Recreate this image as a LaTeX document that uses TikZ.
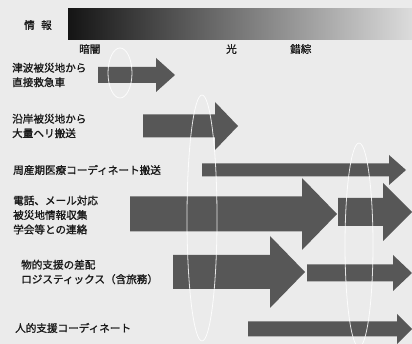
\documentclass[tikz,border=0pt]{standalone}
\usepackage{fontspec}
\newfontfamily\jpfont[FakeBold=1.2]{Noto Sans CJK JP}
\newcommand\myarrow[6]{% x0, head base, tip, centre y, body half, head half
  \fill[arrowfill] (#1,#4-#5) -- (#2,#4-#5) -- (#2,#4-#6) -- (#3,#4) -- (#2,#4+#6) -- (#2,#4+#5) -- (#1,#4+#5) -- cycle;}
\begin{document}
\begin{tikzpicture}[x=1pt,y=-1pt,
  lbl/.style={font=\jpfont\fontsize{10.6}{14.5}\selectfont, anchor=west, align=left, inner sep=0pt, text=black!90},
  arrowfill/.style={fill=black!66},
  zone/.style={draw=white, line width=0.8pt, opacity=0.85}]
\useasboundingbox (0,0) rectangle (412,344);
\fill[gray!16] (0,0) rectangle (412,344);
% information bar
\shade[left color=black!92, middle color=gray!60, right color=gray!28] (68,9) rectangle (412,40);
% arrows
\myarrow{98}{156}{175}{75}{8}{17}
\myarrow{143}{215}{238}{126}{11.5}{24}
\myarrow{202}{389}{406}{170}{6.5}{15}
\myarrow{173}{270}{305}{272}{17}{36}
\myarrow{130}{302}{337}{214}{17.5}{36}
\myarrow{338}{383}{412}{212}{14}{29}
\myarrow{307}{393}{412}{273}{8.5}{18}
\myarrow{248}{397}{412}{329}{7.5}{15}
% phase zones
\draw[zone] (120,73) ellipse [x radius=12pt, y radius=25pt];
\draw[zone] (202,218) ellipse [x radius=15pt, y radius=123pt];
\draw[zone] (359,245) ellipse [x radius=14pt, y radius=102pt];
% texts
\node[lbl] (info) at (24,25) {情\hspace{0.6em}報};
\node[lbl] (dark) at (79,49) {暗闇};
\node[lbl] (light) at (226,49) {光};
\node[lbl] (chaos) at (290,49) {錯綜};
\node[lbl] (t1) at (12,75) {津波被災地から\\直接救急車};
\node[lbl] (t2) at (12,126) {沿岸被災地から\\大量ヘリ搬送};
\node[lbl] (t3) at (13,170) {周産期医療コーディネート搬送};
\node[lbl] (t4) at (13,215) {電話、メール対応\\被災地情報収集\\学会等との連絡};
\node[lbl] (t5) at (21,272) {物的支援の差配\\ロジスティックス（含旅務）};
\node[lbl] (t6) at (15,328) {人的支援コーディネート};
\end{tikzpicture}
\end{document}
